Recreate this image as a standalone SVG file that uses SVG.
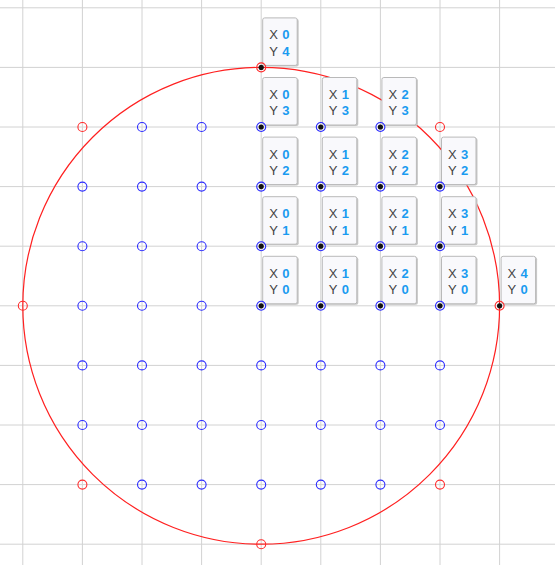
<svg xmlns="http://www.w3.org/2000/svg" width="555" height="565" viewBox="0 0 555 565">
<style>
.grid line{stroke:#d2d2d2;stroke-width:1}
.in{fill:none;stroke:#2b2bff;stroke-width:1.1}
.out{fill:none;stroke:#ff2b2b;stroke-width:1.1}
.dot{fill:#111}
.box{fill:#f9f9fc;stroke:#b9b9b9;stroke-width:1}
.sh{fill:#c8c8c8}
.k{font-family:"Liberation Sans",Arial,sans-serif;font-size:13px;fill:#444}
.v{font-family:"Liberation Sans",Arial,sans-serif;font-size:13px;font-weight:bold;fill:#1a9bf0}
</style>
<defs>
<g id="lab">
<rect class="sh" x="2.5" y="-48.5" width="35" height="47.5" rx="2"/>
<rect class="box" x="1.5" y="-49.5" width="34.5" height="47.5" rx="2"/>
</g>
</defs>
<rect width="555" height="565" fill="#ffffff"/>
<g class="grid" id="grid">
<line x1="22.8" y1="0" x2="22.8" y2="565"/>
<line x1="82.4" y1="0" x2="82.4" y2="565"/>
<line x1="142" y1="0" x2="142" y2="565"/>
<line x1="201.6" y1="0" x2="201.6" y2="565"/>
<line x1="261.2" y1="0" x2="261.2" y2="565"/>
<line x1="320.8" y1="0" x2="320.8" y2="565"/>
<line x1="380.4" y1="0" x2="380.4" y2="565"/>
<line x1="440" y1="0" x2="440" y2="565"/>
<line x1="499.6" y1="0" x2="499.6" y2="565"/>
<line x1="0" y1="7.8" x2="555" y2="7.8"/>
<line x1="0" y1="67.4" x2="555" y2="67.4"/>
<line x1="0" y1="127" x2="555" y2="127"/>
<line x1="0" y1="186.6" x2="555" y2="186.6"/>
<line x1="0" y1="246.2" x2="555" y2="246.2"/>
<line x1="0" y1="305.8" x2="555" y2="305.8"/>
<line x1="0" y1="365.4" x2="555" y2="365.4"/>
<line x1="0" y1="425" x2="555" y2="425"/>
<line x1="0" y1="484.6" x2="555" y2="484.6"/>
<line x1="0" y1="544.2" x2="555" y2="544.2"/>
</g>
<g id="connectors">
<circle cx="261.2" cy="305.8" r="238.4" fill="none" stroke="#ff2020" stroke-width="1.2"/>
</g>
<g id="outside-points">
<circle class="out" cx="22.8" cy="305.8" r="4.5"/>
<circle class="out" cx="261.2" cy="544.2" r="4.5"/>
<circle class="out" cx="82.4" cy="127" r="4.5"/>
<circle class="out" cx="440" cy="127" r="4.5"/>
<circle class="out" cx="82.4" cy="484.6" r="4.5"/>
<circle class="out" cx="440" cy="484.6" r="4.5"/>
</g>
<g id="inside-points">
<circle class="in" cx="142" cy="127" r="4.5"/>
<circle class="in" cx="201.6" cy="127" r="4.5"/>
<circle class="in" cx="82.4" cy="186.6" r="4.5"/>
<circle class="in" cx="142" cy="186.6" r="4.5"/>
<circle class="in" cx="201.6" cy="186.6" r="4.5"/>
<circle class="in" cx="82.4" cy="246.2" r="4.5"/>
<circle class="in" cx="142" cy="246.2" r="4.5"/>
<circle class="in" cx="201.6" cy="246.2" r="4.5"/>
<circle class="in" cx="82.4" cy="305.8" r="4.5"/>
<circle class="in" cx="142" cy="305.8" r="4.5"/>
<circle class="in" cx="201.6" cy="305.8" r="4.5"/>
<circle class="in" cx="82.4" cy="365.4" r="4.5"/>
<circle class="in" cx="142" cy="365.4" r="4.5"/>
<circle class="in" cx="201.6" cy="365.4" r="4.5"/>
<circle class="in" cx="261.2" cy="365.4" r="4.5"/>
<circle class="in" cx="320.8" cy="365.4" r="4.5"/>
<circle class="in" cx="380.4" cy="365.4" r="4.5"/>
<circle class="in" cx="440" cy="365.4" r="4.5"/>
<circle class="in" cx="82.4" cy="425" r="4.5"/>
<circle class="in" cx="142" cy="425" r="4.5"/>
<circle class="in" cx="201.6" cy="425" r="4.5"/>
<circle class="in" cx="261.2" cy="425" r="4.5"/>
<circle class="in" cx="320.8" cy="425" r="4.5"/>
<circle class="in" cx="380.4" cy="425" r="4.5"/>
<circle class="in" cx="440" cy="425" r="4.5"/>
<circle class="in" cx="142" cy="484.6" r="4.5"/>
<circle class="in" cx="201.6" cy="484.6" r="4.5"/>
<circle class="in" cx="261.2" cy="484.6" r="4.5"/>
<circle class="in" cx="320.8" cy="484.6" r="4.5"/>
<circle class="in" cx="380.4" cy="484.6" r="4.5"/>
</g>
<g id="p-0-4" transform="translate(261.2 67.4)"><use href="#lab"/><text class="k" x="8" y="-28">X</text><text class="v" x="21" y="-28">0</text><text class="k" x="8" y="-11.7">Y</text><text class="v" x="21" y="-11.7">4</text><circle class="out" r="4.5"/><circle class="dot" r="2.6"/></g>
<g id="p-0-3" transform="translate(261.2 127)"><use href="#lab"/><text class="k" x="8" y="-28">X</text><text class="v" x="21" y="-28">0</text><text class="k" x="8" y="-11.7">Y</text><text class="v" x="21" y="-11.7">3</text><circle class="in" r="4.5"/><circle class="dot" r="2.6"/></g>
<g id="p-1-3" transform="translate(320.8 127)"><use href="#lab"/><text class="k" x="8" y="-28">X</text><text class="v" x="21" y="-28">1</text><text class="k" x="8" y="-11.7">Y</text><text class="v" x="21" y="-11.7">3</text><circle class="in" r="4.5"/><circle class="dot" r="2.6"/></g>
<g id="p-2-3" transform="translate(380.4 127)"><use href="#lab"/><text class="k" x="8" y="-28">X</text><text class="v" x="21" y="-28">2</text><text class="k" x="8" y="-11.7">Y</text><text class="v" x="21" y="-11.7">3</text><circle class="in" r="4.5"/><circle class="dot" r="2.6"/></g>
<g id="p-0-2" transform="translate(261.2 186.6)"><use href="#lab"/><text class="k" x="8" y="-28">X</text><text class="v" x="21" y="-28">0</text><text class="k" x="8" y="-11.7">Y</text><text class="v" x="21" y="-11.7">2</text><circle class="in" r="4.5"/><circle class="dot" r="2.6"/></g>
<g id="p-1-2" transform="translate(320.8 186.6)"><use href="#lab"/><text class="k" x="8" y="-28">X</text><text class="v" x="21" y="-28">1</text><text class="k" x="8" y="-11.7">Y</text><text class="v" x="21" y="-11.7">2</text><circle class="in" r="4.5"/><circle class="dot" r="2.6"/></g>
<g id="p-2-2" transform="translate(380.4 186.6)"><use href="#lab"/><text class="k" x="8" y="-28">X</text><text class="v" x="21" y="-28">2</text><text class="k" x="8" y="-11.7">Y</text><text class="v" x="21" y="-11.7">2</text><circle class="in" r="4.5"/><circle class="dot" r="2.6"/></g>
<g id="p-3-2" transform="translate(440 186.6)"><use href="#lab"/><text class="k" x="8" y="-28">X</text><text class="v" x="21" y="-28">3</text><text class="k" x="8" y="-11.7">Y</text><text class="v" x="21" y="-11.7">2</text><circle class="in" r="4.5"/><circle class="dot" r="2.6"/></g>
<g id="p-0-1" transform="translate(261.2 246.2)"><use href="#lab"/><text class="k" x="8" y="-28">X</text><text class="v" x="21" y="-28">0</text><text class="k" x="8" y="-11.7">Y</text><text class="v" x="21" y="-11.7">1</text><circle class="in" r="4.5"/><circle class="dot" r="2.6"/></g>
<g id="p-1-1" transform="translate(320.8 246.2)"><use href="#lab"/><text class="k" x="8" y="-28">X</text><text class="v" x="21" y="-28">1</text><text class="k" x="8" y="-11.7">Y</text><text class="v" x="21" y="-11.7">1</text><circle class="in" r="4.5"/><circle class="dot" r="2.6"/></g>
<g id="p-2-1" transform="translate(380.4 246.2)"><use href="#lab"/><text class="k" x="8" y="-28">X</text><text class="v" x="21" y="-28">2</text><text class="k" x="8" y="-11.7">Y</text><text class="v" x="21" y="-11.7">1</text><circle class="in" r="4.5"/><circle class="dot" r="2.6"/></g>
<g id="p-3-1" transform="translate(440 246.2)"><use href="#lab"/><text class="k" x="8" y="-28">X</text><text class="v" x="21" y="-28">3</text><text class="k" x="8" y="-11.7">Y</text><text class="v" x="21" y="-11.7">1</text><circle class="in" r="4.5"/><circle class="dot" r="2.6"/></g>
<g id="p-0-0" transform="translate(261.2 305.8)"><use href="#lab"/><text class="k" x="8" y="-28">X</text><text class="v" x="21" y="-28">0</text><text class="k" x="8" y="-11.7">Y</text><text class="v" x="21" y="-11.7">0</text><circle class="in" r="4.5"/><circle class="dot" r="2.6"/></g>
<g id="p-1-0" transform="translate(320.8 305.8)"><use href="#lab"/><text class="k" x="8" y="-28">X</text><text class="v" x="21" y="-28">1</text><text class="k" x="8" y="-11.7">Y</text><text class="v" x="21" y="-11.7">0</text><circle class="in" r="4.5"/><circle class="dot" r="2.6"/></g>
<g id="p-2-0" transform="translate(380.4 305.8)"><use href="#lab"/><text class="k" x="8" y="-28">X</text><text class="v" x="21" y="-28">2</text><text class="k" x="8" y="-11.7">Y</text><text class="v" x="21" y="-11.7">0</text><circle class="in" r="4.5"/><circle class="dot" r="2.6"/></g>
<g id="p-3-0" transform="translate(440 305.8)"><use href="#lab"/><text class="k" x="8" y="-28">X</text><text class="v" x="21" y="-28">3</text><text class="k" x="8" y="-11.7">Y</text><text class="v" x="21" y="-11.7">0</text><circle class="in" r="4.5"/><circle class="dot" r="2.6"/></g>
<g id="p-4-0" transform="translate(499.6 305.8)"><use href="#lab"/><text class="k" x="8" y="-28">X</text><text class="v" x="21" y="-28">4</text><text class="k" x="8" y="-11.7">Y</text><text class="v" x="21" y="-11.7">0</text><circle class="out" r="4.5"/><circle class="dot" r="2.6"/></g>
</svg>
